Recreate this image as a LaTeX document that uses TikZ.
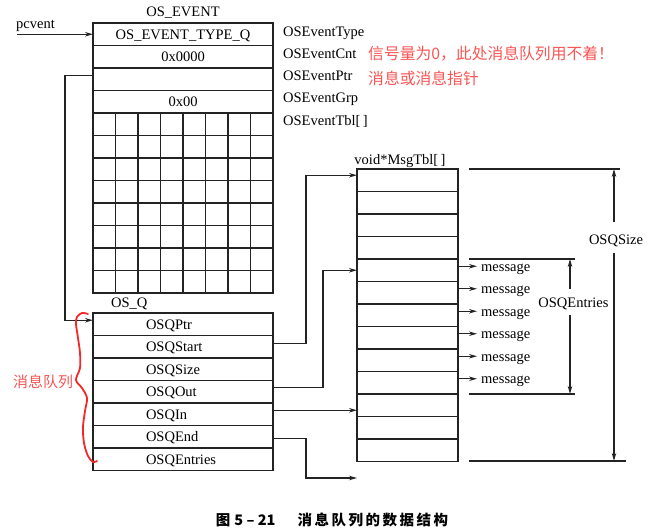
\documentclass[tikz,border=0pt]{standalone}
\usepackage{fontspec}
\setmainfont{Liberation Serif}
\newfontfamily\cjk{Noto Sans CJK SC}
\usetikzlibrary{arrows.meta}
\definecolor{ln}{RGB}{35,35,35}
\definecolor{rd}{RGB}{250,85,85}
\definecolor{brc}{RGB}{245,40,40}
\newcommand\fs{\fontsize{14.5}{17}\selectfont}
\newcommand\ql[1]{\makebox[180pt][l]{\hspace*{53pt}#1}}
\begin{document}
\begin{tikzpicture}[x=1pt,y=-1pt]
\useasboundingbox (0,0) rectangle (651,532);
\tikzset{
  txt/.style={inner sep=0pt, font=\fs, text height=10.5pt, text depth=0.5pt},
  cell/.style={draw=ln, line width=1.1pt, minimum width=180pt, minimum height=22.5pt,
    inner sep=0pt, outer sep=0pt, anchor=north west, font=\fs, text height=10.5pt, text depth=0.5pt},
  mcell/.style={cell, minimum width=101pt},
  arr/.style={draw=ln, line width=1.1pt, -{Stealth[length=8pt,width=4.5pt]}},
  dimline/.style={draw=ln, line width=1.1pt},
  redt/.style={text=rd, inner sep=0pt, font=\cjk\fontsize{15.8}{18}\selectfont},
}
% ---------- OS_EVENT ----------
\node[txt, anchor=base] (tev) at (183,17) {OS\_EVENT};
\node[cell] (ev1) at (93,23) {OS\_EVENT\_TYPE\_Q};
\node[cell] (ev2) at (93,45.5) {0x0000};
\node[cell] (ev3) at (93,68) {};
\node[cell] (ev4) at (93,90.5) {0x00};
\node[cell, minimum height=180pt] (tbl) at (93,113) {};
\foreach \i in {1,...,7} {
  \draw[ln, line width=1.1pt] ({93+22.5*\i},113) -- ({93+22.5*\i},293);
  \draw[ln, line width=1.1pt] (93,{113+22.5*\i}) -- (273,{113+22.5*\i});
}
\node[txt, anchor=base west] (l1) at (283,37) {OSEventType};
\node[txt, anchor=base west] (l2) at (283,58.5) {OSEventCnt};
\node[txt, anchor=base west] (l3) at (283,81) {OSEventPtr};
\node[txt, anchor=base west] (l4) at (283,103) {OSEventGrp};
\node[txt, anchor=base west] (l5) at (283,126) {OSEventTbl[\,]};
\node[redt, anchor=west] (r1) at (368,53.5) {信号量为0，此处消息队列用不着！};
\node[redt, anchor=west] (r2) at (368,78) {消息或消息指针};
% pevent
\node[txt, anchor=base west] (pcv) at (16,29) {pcvent};
\coordinate (pc) at (17,34.25);
\draw[arr] (pc) -- (ev1.west);
% ---------- OS_Q ----------
\node[txt, anchor=base west] (tq) at (111,307) {OS\_Q};
\node[cell] (q1) at (93,313) {\ql{OSQPtr}};
\node[cell] (q2) at (93,335.5) {\ql{OSQStart}};
\node[cell] (q3) at (93,358) {\ql{OSQSize}};
\node[cell] (q4) at (93,380.5) {\ql{OSQOut}};
\node[cell] (q5) at (93,403) {\ql{OSQIn}};
\node[cell] (q6) at (93,425.5) {\ql{OSQEnd}};
\node[cell] (q7) at (93,448) {\ql{OSQEntries}};
\draw[arr] ([yshift=4pt]ev3.west) -- ++(-28,0) |- ([yshift=4pt]q1.west);
% ---------- MsgTbl ----------
\node[txt, anchor=base] (tm) at (400,165) {void*MsgTbl[\,]};
\foreach \k in {1,...,13} {
  \node[mcell] (m\k) at (357,{169+22.5*(\k-1)}) {};
}
\draw[arr] ([yshift=3pt]q2.east) -- ++(33,0) |- ([yshift=5pt]m1.west);
\draw[arr] ([yshift=4pt]q4.east) -- ++(50,0) |- (m5.west);
\draw[arr] ([yshift=4pt]q5.east) -- ([yshift=4pt]q5.east -| m11.west);
\coordinate (qe) at ([yshift=-16.5pt]m13.south west);
\draw[arr] ([yshift=-2pt]q6.east) -- ++(33,0) |- (qe);
% messages
\foreach \k in {5,...,10} {
  \coordinate (a\k) at ([yshift=4pt]m\k.east);
  \node[txt, anchor=west, inner xsep=4pt] (msg\k) at ([xshift=19pt]a\k) {message};
  \draw[arr] (a\k) -- (msg\k.west);
}
% OSQEntries dimension
\coordinate (ea1) at (469,259); \coordinate (ea2) at (575,259);
\coordinate (eb1) at (469,394); \coordinate (eb2) at (575,394);
\draw[dimline] (ea1) -- (ea2);
\draw[dimline] (eb1) -- (eb2);
\node[txt, anchor=base] (qen) at (573.5,307) {OSQEntries};
\coordinate (eu0) at (570,289); \coordinate (eu1) at (570,259);
\coordinate (ed0) at (570,315); \coordinate (ed1) at (570,394);
\draw[arr] (eu0) -- (eu1);
\draw[arr] (ed0) -- (ed1);
% OSQSize dimension
\coordinate (sa1) at (469,169); \coordinate (sa2) at (620,169);
\coordinate (sb1) at (469,461); \coordinate (sb2) at (626,461);
\draw[dimline] (sa1) -- (sa2);
\draw[dimline] (sb1) -- (sb2);
\node[txt, anchor=base] (qsz) at (616,244) {OSQSize};
\coordinate (su0) at (614,222); \coordinate (su1) at (614,169);
\coordinate (sd0) at (614,253); \coordinate (sd1) at (614,461);
\draw[arr] (su0) -- (su1);
\draw[arr] (sd0) -- (sd1);
% red brace and label
\draw[brc, line width=1.8pt, line cap=round, line join=round]
  plot[smooth, tension=0.55] coordinates {(88,314) (82,313) (77,317) (76,324) (78,338) (80,353) (80,368) (76,380) (82,388) (87,398) (85,411) (83,427) (84,443) (88,456) (93,462) (97,461)};
\node[redt, anchor=west, font=\cjk\fontsize{15}{18}\selectfont] (qlbl) at (13,382) {消息队列};
% caption
\node[inner sep=0pt, font=\cjk\bfseries\fontsize{14.5}{17}\selectfont] (cap) at (332,520)
  {图\hspace{4pt}5 – 21\hspace{22pt}消\kern2.5pt 息\kern2.5pt 队\kern2.5pt 列\kern2.5pt 的\kern2.5pt 数\kern2.5pt 据\kern2.5pt 结\kern2.5pt 构};
\end{tikzpicture}
\end{document}
